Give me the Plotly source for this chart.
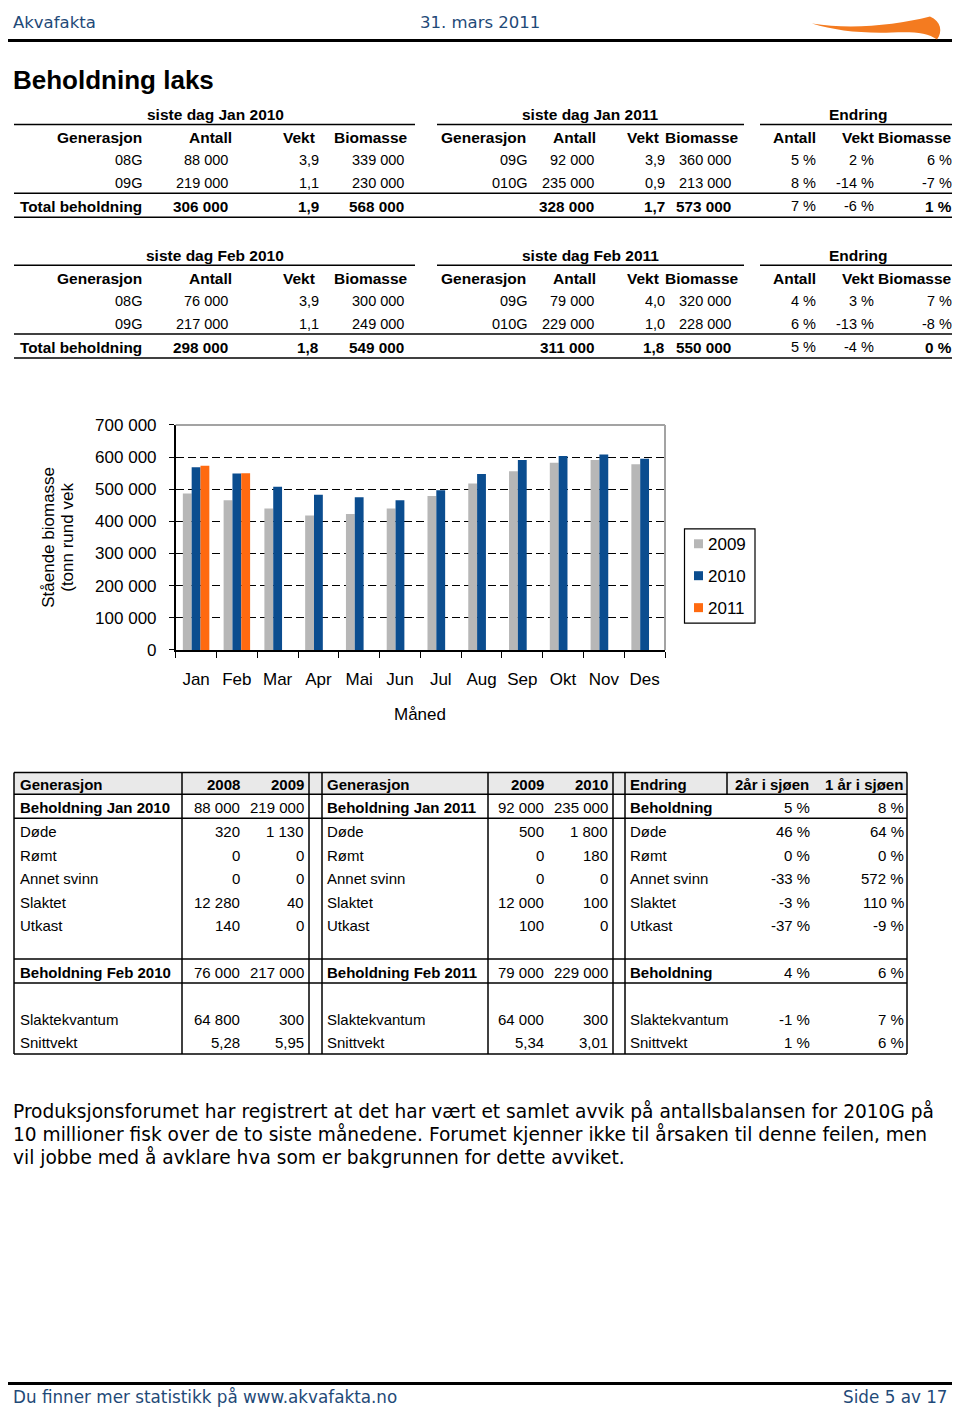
import plotly.graph_objects as go

# Page geometry: body margin of 8px around the figure; the captured page is
# mapped to the picture with a small vertical offset/scale, compensated in Y().
OFF_X = 8
OFF_Y0, SCALE_Y = 7.5, 0.9881
W, H = 944, 1410
ARIAL = "Liberation Sans, Arial, sans-serif"
VERD = "DejaVu Sans, Verdana, sans-serif"
HEAD_BLUE = "#1f4a78"
GRAY, BLUE, ORANGE = "#b7b7b7", "#0b4d8f", "#ff6a10"

# ---------------- chart data ----------------
months = ["Jan", "Feb", "Mar", "Apr", "Mai", "Jun", "Jul", "Aug", "Sep", "Okt", "Nov", "Des"]
bio_2009 = [487000, 466000, 440000, 418000, 423000, 440000, 479000, 518000, 556000, 582000, 591000, 578000]
bio_2010 = [568000, 549000, 508000, 483000, 475000, 466000, 497000, 547000, 591000, 603000, 608000, 595000]
bio_2011 = [573000, 550000, None, None, None, None, None, None, None, None, None, None]
series_names = ["2009", "2010", "2011"]
y_tick_vals = [0, 100000, 200000, 300000, 400000, 500000, 600000, 700000]
y_tick_text = ["0", "100 000", "200 000", "300 000", "400 000", "500 000", "600 000", "700 000"]

# ---------------- table data (top) ----------------
top_titles = ["siste dag Jan 2010", "siste dag Jan 2011", "Endring"]
top_titles_feb = ["siste dag Feb 2010", "siste dag Feb 2011", "Endring"]
top_header = ["Generasjon", "Antall", "Vekt", "Biomasse", "Generasjon", "Antall", "Vekt", "Biomasse",
              "Antall", "Vekt", "Biomasse"]
jan_rows = [
    ["08G", "88 000", "3,9", "339 000", "09G", "92 000", "3,9", "360 000", "5 %", "2 %", "6 %"],
    ["09G", "219 000", "1,1", "230 000", "010G", "235 000", "0,9", "213 000", "8 %", "-14 %", "-7 %"],
    ["Total beholdning", "306 000", "1,9", "568 000", "", "328 000", "1,7", "573 000", "7 %", "-6 %", "1 %"],
]
feb_rows = [
    ["08G", "76 000", "3,9", "300 000", "09G", "79 000", "4,0", "320 000", "4 %", "3 %", "7 %"],
    ["09G", "217 000", "1,1", "249 000", "010G", "229 000", "1,0", "228 000", "6 %", "-13 %", "-8 %"],
    ["Total beholdning", "298 000", "1,8", "549 000", "", "311 000", "1,8", "550 000", "5 %", "-4 %", "0 %"],
]
total_bold = [True, True, True, True, True, True, True, True, False, False, True]

# ---------------- table data (bottom) ----------------
bal_header = ["Generasjon", "2008", "2009", "Generasjon", "2009", "2010", "Endring", "2år i sjøen", "1 år i sjøen"]
bal_labels_a = ["Beholdning Jan 2010", "Døde", "Rømt", "Annet svinn", "Slaktet", "Utkast",
                "Beholdning Feb 2010", "Slaktekvantum", "Snittvekt"]
bal_2008 = ["88 000", "320", "0", "0", "12 280", "140", "76 000", "64 800", "5,28"]
bal_2009a = ["219 000", "1 130", "0", "0", "40", "0", "217 000", "300", "5,95"]
bal_labels_b = ["Beholdning Jan 2011", "Døde", "Rømt", "Annet svinn", "Slaktet", "Utkast",
                "Beholdning Feb 2011", "Slaktekvantum", "Snittvekt"]
bal_2009b = ["92 000", "500", "0", "0", "12 000", "100", "79 000", "64 000", "5,34"]
bal_2010 = ["235 000", "1 800", "180", "0", "100", "0", "229 000", "300", "3,01"]
bal_labels_c = ["Beholdning", "Døde", "Rømt", "Annet svinn", "Slaktet", "Utkast",
                "Beholdning", "Slaktekvantum", "Snittvekt"]
chg_2yr = ["5 %", "46 %", "0 %", "-33 %", "-3 %", "-37 %", "4 %", "-1 %", "1 %"]
chg_1yr = ["8 %", "64 %", "0 %", "572 %", "110 %", "-9 %", "6 %", "7 %", "6 %"]
bal_bold = [True, False, False, False, False, False, True, False, False]

paragraph = [
    "Produksjonsforumet har registrert at det har vært et samlet avvik på antallsbalansen for 2010G på",
    "10 millioner fisk over de to siste månedene. Forumet kjenner ikke til årsaken til denne feilen, men",
    "vil jobbe med å avklare hva som er bakgrunnen for dette avviket.",
]


def X(p):
    return (p - OFF_X) / W


def Y(p):
    yf = (p - OFF_Y0) / SCALE_Y - 8
    return 1 - yf / H


annotations = []
shapes = []


def txt(x, y, s, size=15, bold=False, anchor="left", color="black", family=ARIAL, angle=0):
    annotations.append(dict(
        x=X(x), y=Y(y), xref="paper", yref="paper", showarrow=False,
        text=("<b>%s</b>" % s) if bold else s, xanchor=anchor, yanchor="middle",
        textangle=angle, borderpad=0,
        font=dict(size=size, color=color, family=family)))


def hline(x0, x1, y, w=1.5, color="black"):
    shapes.append(dict(type="line", xref="paper", yref="paper", x0=X(x0), x1=X(x1), y0=Y(y), y1=Y(y),
                       line=dict(color=color, width=w)))


def vline(x, y0, y1, w=1.5, color="black"):
    shapes.append(dict(type="line", xref="paper", yref="paper", x0=X(x), x1=X(x), y0=Y(y0), y1=Y(y1),
                       line=dict(color=color, width=w)))


def rect(x0, y0, x1, y1, fill, lw=0, lc="black"):
    shapes.append(dict(type="rect", xref="paper", yref="paper", x0=X(x0), x1=X(x1), y0=Y(y0), y1=Y(y1),
                       fillcolor=fill, line=dict(width=lw, color=lc), layer="below"))


# ---------------- page header / footer ----------------
txt(12, 21, "Akvafakta", size=16.5, color=HEAD_BLUE, family=VERD)
txt(480, 21, "31. mars 2011", size=16.5, color=HEAD_BLUE, family=VERD, anchor="center")
hline(0, 958, 39, w=3)
raw = [(812, 22),
       (850, 28), (895, 24), (930, 15),
       (941, 20), (943, 30), (937, 38),
       (928, 31), (912, 30), (892, 31),
       (860, 32), (835, 29), (812, 22)]
cmds = ["M %.5f,%.5f" % (X(raw[0][0]), Y(raw[0][1]))]
for k in range(1, len(raw), 3):
    cmds.append("C " + " ".join("%.5f,%.5f" % (X(a), Y(b)) for a, b in raw[k:k + 3]))
shapes.append(dict(type="path", xref="paper", yref="paper", path=" ".join(cmds) + " Z",
                   fillcolor="#f47b20", line=dict(width=0)))
hline(0, 958, 1384, w=3)
txt(12, 1398, "Du finner mer statistikk på www.akvafakta.no", size=16.8, color=HEAD_BLUE, family=VERD)
txt(949, 1398, "Side 5 av 17", size=16.8, color=HEAD_BLUE, family=VERD, anchor="right")

txt(12, 79, "Beholdning laks", size=26, bold=True)

# ---------------- top tables ----------------
hdr_right = [143, 233, 316, 409, 527, 597, 660, 740, 817, 875, 953]
dat_right = [143, 229, 320, 405, 528, 595, 666, 732, 817, 875, 953]
title_cx = [215, 590, 858]
seg = [(14, 415), (437, 744), (760, 958)]


def top_table(y0, titles, rows):
    for t, cx in zip(titles, title_cx):
        txt(cx, y0, t, size=15.5, bold=True, anchor="center")
    for a, b in seg:
        hline(a, b, y0 + 10)
    for h, xr in zip(top_header, hdr_right):
        txt(xr, y0 + 23, h, size=15.5, bold=True, anchor="right")
    for i, row in enumerate(rows):
        yy = y0 + 46 + 23 * i
        for j, (v, xr) in enumerate(zip(row, dat_right)):
            b = (i == 2) and total_bold[j]
            txt(xr, yy, v, size=15.3 if b else 14.5, bold=b, anchor="right")
    hline(14, 958, y0 + 79)
    hline(14, 958, y0 + 103)


top_table(113, top_titles, jan_rows)
top_table(254, top_titles_feb, feb_rows)

# ---------------- bottom balance table ----------------
rect(14, 772, 907, 794, "#e9e9e9")
for yy in [772, 794, 818, 959, 983, 1054]:
    hline(14, 907, yy)
for xx in [14, 182, 309, 322, 488, 613, 625, 907]:
    vline(xx, 772, 1054)
vline(727, 772, 794)
hdr_y = 784
txt(19, hdr_y, bal_header[0], bold=True)
txt(241, hdr_y, bal_header[1], bold=True, anchor="right")
txt(305, hdr_y, bal_header[2], bold=True, anchor="right")
txt(326, hdr_y, bal_header[3], bold=True)
txt(545, hdr_y, bal_header[4], bold=True, anchor="right")
txt(609, hdr_y, bal_header[5], bold=True, anchor="right")
txt(629, hdr_y, bal_header[6], bold=True)
txt(810, hdr_y, bal_header[7], bold=True, anchor="right")
txt(904, hdr_y, bal_header[8], bold=True, anchor="right")
row_y = [807, 831, 855, 878, 902, 925, 972, 1020, 1043]
for i, yy in enumerate(row_y):
    b = bal_bold[i]
    txt(19, yy, bal_labels_a[i], bold=b)
    txt(241, yy, bal_2008[i], anchor="right")
    txt(305, yy, bal_2009a[i], anchor="right")
    txt(326, yy, bal_labels_b[i], bold=b)
    txt(545, yy, bal_2009b[i], anchor="right")
    txt(609, yy, bal_2010[i], anchor="right")
    txt(629, yy, bal_labels_c[i], bold=b)
    txt(811, yy, chg_2yr[i], anchor="right")
    txt(905, yy, chg_1yr[i], anchor="right")

for k, line in enumerate(paragraph):
    txt(12, 1111 + 23 * k, line, size=18.6, family=VERD)

# ---------------- chart ----------------
PL, PR, PT, PB = 175.7, 665, 424, 649.3
fig = go.Figure()
for name, vals_, col in zip(series_names, [bio_2009, bio_2010, bio_2011], [GRAY, BLUE, ORANGE]):
    fig.add_trace(go.Bar(x=months, y=vals_, name=name, marker=dict(color=col, line=dict(width=0)),
                         showlegend=False))

# plot frame (grey top/right)
hline(PL, PR, PT, w=2, color="#a3a3a3")
vline(PR, PT, PB, w=2, color="#a3a3a3")

# y title & x title
txt(49, 537, "Stående biomasse", size=17, angle=-90, anchor="center")
txt(68, 537, "(tonn rund vek", size=17, angle=-90, anchor="center")
txt(420, 714, "Måned", size=17, anchor="center")

# legend box
shapes.append(dict(type="rect", xref="paper", yref="paper", x0=X(684.5), x1=X(755), y0=Y(528), y1=Y(622.5),
                   line=dict(color="black", width=1.2), fillcolor="white", layer="below"))
for k, (name, col) in enumerate(zip(series_names, [GRAY, BLUE, ORANGE])):
    cy = 543 + 32 * k
    shapes.append(dict(type="rect", xref="paper", yref="paper", x0=X(694), x1=X(703), y0=Y(cy - 4.5),
                       y1=Y(cy + 4.5), fillcolor=col, line=dict(width=0)))
    txt(707, cy + 1, name, size=17)

fig.update_layout(
    width=W, height=H, margin=dict(l=0, r=0, t=0, b=0),
    paper_bgcolor="white", plot_bgcolor="white",
    bargap=0.35, bargroupgap=0, barmode="group",
    annotations=annotations, shapes=shapes,
    xaxis=dict(domain=[X(PL), X(PR)], type="category", categoryarray=months,
               tickson="boundaries", ticks="outside", ticklen=6, tickcolor="black", tickwidth=1.2,
               showline=True, linecolor="black", linewidth=1.5, showgrid=False,
               tickfont=dict(size=17, family=ARIAL, color="black"), ticklabelstandoff=13),
    yaxis=dict(domain=[Y(PB), Y(PT)], range=[0, 700000], tickvals=y_tick_vals, ticktext=y_tick_text,
               ticks="outside", ticklen=5, tickcolor="black", tickwidth=1.2,
               showline=True, linecolor="black", linewidth=1.5,
               showgrid=True, gridcolor="black", gridwidth=1.2, griddash="8px,4px", zeroline=False,
               tickfont=dict(size=17, family=ARIAL, color="black"), ticklabelstandoff=9),
    font=dict(family=ARIAL),
)

fig.write_html("out.html")
